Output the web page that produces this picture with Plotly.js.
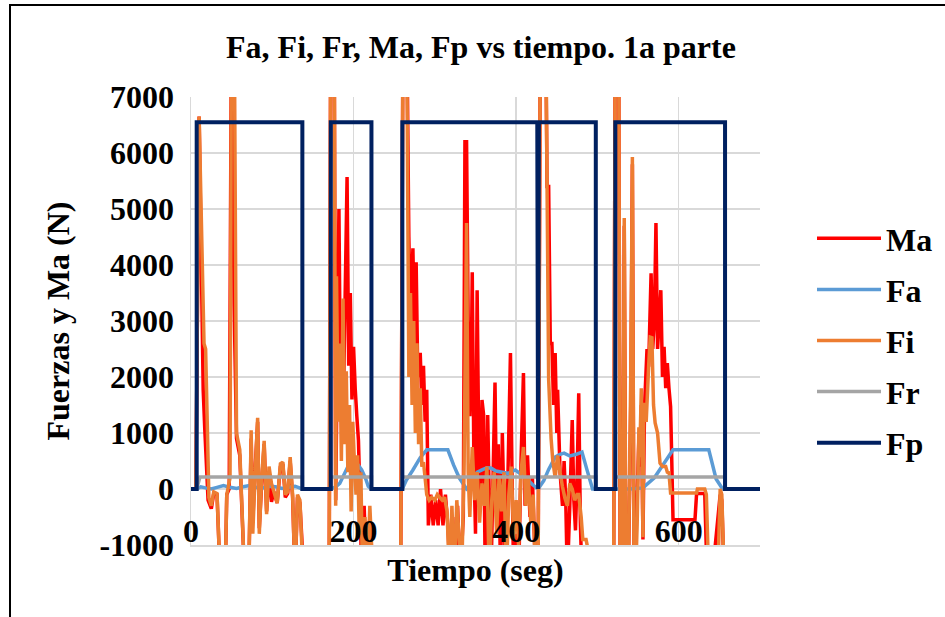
<!DOCTYPE html>
<html><head><meta charset="utf-8">
<script src="https://cdn.plot.ly/plotly-3.0.1.min.js"></script>
<style>
html,body{margin:0;padding:0;overflow:hidden;background:#fff;width:945px;height:617px}
#chart{position:absolute;left:0;top:0;width:945px;height:617px}
#frame{position:absolute;left:9px;top:4px;width:960px;height:640px;border:2px solid #000;pointer-events:none}
</style></head><body>
<div id="chart"></div><div id="frame"></div>
<script>
// ---- data ----
var tFp = [0, 7, 7, 137, 137, 172, 172, 222, 222, 260, 260, 426, 427, 428, 498, 498, 522, 522, 657, 657, 700];
var fp  = [0, 0, 6550, 6550, 0, 0, 6550, 6550, 0, 0, 6550, 6550, 0, 6550, 6550, 0, 0, 6550, 6550, 0, 0];

var tFr = [0, 7, 11, 137, 137, 172, 172, 222, 222, 260, 260, 498, 498, 522, 522, 657, 657, 700];
var fr  = [0, 0, 215, 215, 0, 0, 215, 215, 0, 0, 215, 215, 0, 0, 215, 215, 0, 0];

var tFa = [0, 7, 12, 18, 25, 32, 40, 48, 56, 64, 72, 80, 88, 96, 104, 112, 120, 128, 137, 172, 178, 183, 188, 193, 199, 204, 210, 215, 218, 222, 260, 265, 273, 282, 290, 316, 323, 330, 339, 346, 352, 358, 364, 369, 375, 383, 390, 399, 406, 413, 420, 427, 434, 440, 448, 454, 459, 466, 474, 481, 487, 494, 540, 556, 570, 582, 593, 637, 646, 654, 700];
var fa  = [0, 0, 40, 20, 0, 30, 60, 30, 10, 40, 60, 30, 20, 50, 40, 10, 30, 50, 0, 0, 40, 100, 250, 400, 430, 460, 340, 180, 50, 0, 0, 160, 340, 560, 700, 700, 430, 200, 0, 80, 300, 340, 380, 375, 320, 300, 280, 340, 260, 180, 80, 0, 150, 350, 570, 620, 640, 590, 620, 660, 350, 0, 0, 20, 200, 460, 700, 700, 180, 0, 0];

var tFi = [0, 6, 10, 16, 18, 22, 25, 28, 32, 36, 42, 44, 48, 50, 53, 56, 60, 66, 71, 74, 76, 79, 82, 84, 87, 90, 93, 96, 99, 102, 106, 110, 113, 116, 119, 122, 125, 128, 131, 134, 138, 142, 168,
  170, 172, 176, 178, 179, 181, 183, 185, 187, 189, 191, 193, 195, 197, 199, 201, 203, 205, 207, 209, 211, 214, 217, 220, 224, 226, 256,
  258, 261, 265, 268, 270, 272, 274, 276, 278, 280, 282, 284, 286, 288, 290, 293, 296, 300, 303, 306, 309, 312, 315, 318, 321, 324, 327, 330, 333, 336, 339, 341, 343, 346, 349, 352, 355, 358, 361, 364, 367, 370, 373, 376, 379, 382, 385, 388, 391, 394, 397, 400, 403, 406, 409, 412, 415, 418, 421, 424, 427,
  430, 436, 440, 443, 445, 448, 451, 454, 457, 460, 463, 466, 469, 472, 475, 477, 480, 482, 486, 490, 494, 497, 500, 518,
  520, 522, 526, 528, 531, 533, 535, 538, 541, 543, 545, 547, 549, 551, 552, 554, 556, 557, 560, 563, 565, 567, 569, 571, 574, 577, 580, 584, 586, 588, 590, 600, 610, 622, 623, 632, 634, 637, 640, 648, 651, 653, 656, 660];
var fi  = [0, 0, 6650, 2600, 2500, -150, -300, -50, -80, -1600, -1600, -100, 200, 9000, 9000, 1000, 700, -1600, -1600, 1050, -800, 300, 1270, -800, 200, 860, -450, 400, 100, -50, -250, 450, 480, -100, -50, 570, -100, -1600, -100, -200, -1600, -2500, -2500,
  -1500, 9000, 9000, -300, 3800, 1200, 2600, 500, 3400, 800, 2100, 300, 1500, -400, 1200, 500, -100, 600, -800, 300, -1600, -500, -1600, -300, -1600, -2500, -2500,
  -1500, 9000, 9000, 2000, 3500, 1500, 3000, 1000, 2600, 800, 1800, 400, 480, 200, -100, -200, -150, -200, -100, -150, -200, -150, -400, -1600, -300, -1600, -200, -900, -1600, 500, 4750, 300, -500, 750, -200, 300, -600, 100, -300, 400, -1600, -200, 300, -800, 200, -400, 300, -1600, -100, 400, -900, -200, -1000, 300, 750, -300, 200, -600, -100, -1600, -1600,
  9000, 9000, 1950, 900, 520, 200, 600, 300, 40, -160, -300, 100, 0, -200, -100, -100, -500, -900, -900, -1200, -1600, -1600, -2500, -2500,
  -1500, 9000, 9000, -1600, -1600, 4840, -1600, -1600, 2000, 5930, -1600, -1600, -550, 1100, 570, 1800, -860, 1540, 1200, 2200, 2710, 2700, 1500, 1180, 1000, 460, 400, 400, 300, 290, -70, -70, -70, -70, 0, 0, -100, -1600, -1600, -1600, 0, -100, -1600, -2500];

var tMa = [0, 6, 10, 15, 17, 21, 25, 28, 32, 36, 42, 44, 47, 50, 53, 56, 60, 66, 71, 74, 76, 78, 82, 84, 87, 90, 93, 96, 99, 102, 106, 110, 113, 116, 119, 122, 125, 128, 131, 134, 139, 142, 168,
  170, 172, 176, 178, 182, 184, 186, 188, 192, 194, 196, 198, 200, 202, 204, 206, 208, 210, 213, 216, 220, 224, 226, 256,
  258, 261, 265, 268, 270, 273, 275, 277, 279, 282, 284, 286, 288, 290, 292, 295, 298, 301, 304, 307, 310, 313, 316, 319, 322, 325, 328, 331, 335, 337, 339, 341, 343, 345, 346, 348, 350, 352, 354, 356, 358, 360, 362, 365, 367, 369, 372, 374, 376, 378, 381, 383, 385, 387, 390, 393, 395, 397, 400, 403, 406, 409, 411, 414, 417, 420, 424, 427,
  430, 436, 438, 440, 442, 444, 446, 448, 450, 451, 454, 457, 459, 461, 463, 466, 469, 471, 473, 475, 477, 479, 481, 485, 490, 497, 500, 518,
  520, 522, 526, 528, 531, 533, 535, 538, 541, 543, 545, 547, 548, 551, 552, 554, 556, 558, 561, 563, 566, 568, 570, 572, 574, 576, 578, 580, 582, 584, 586, 588, 590, 591, 593, 620, 622, 632, 635, 641, 651, 653, 656, 660];
var ma  = [0, 0, 6650, 1770, 1050, -200, -350, -80, -100, -1600, -1600, -100, 0, 9000, 3300, 900, 600, -1600, -1600, 900, -600, 100, 1200, -700, 100, 800, -400, 300, -230, -50, -250, 400, 450, -150, -80, 500, -150, -1600, -150, -250, -1600, -2500, -2500,
  -1500, 9000, 9000, -200, 5000, 1500, 3000, 2000, 5570, 2200, 3500, 1600, 2540, 1800, 1300, 870, -200, -1600, -300, -1600, -500, -1600, -2500, -2500,
  -1500, 9000, 9000, 4500, 3000, 4300, 2500, 4050, 2000, 2430, 1500, 2200, 1200, 1770, -650, -100, -650, -200, -650, 0, -650, -100, -650, -1600, -500, -1600, -300, -1600, -500, 6200, 6200, 3000, 1300, 2500, 3870, 500, -800, 3550, 800, -300, 1590, 1320, -1600, 1320, -200, -1600, 500, 1900, -400, 800, -1600, 1000, -300, -1600, 300, 2430, 200, -1600, -800, -1600, 500, 2070, -300, 600, -500, 200, -1600, -1600,
  9000, 9000, 5400, 5400, 2600, 2600, 1500, 2430, 1000, 1770, 300, -300, 500, -200, -1600, -300, 1230, -200, -740, 200, 1710, -600, -1600, -1600, -1600, -1600, -2500, -2500,
  -1500, 9000, 9000, -1600, -1600, 4700, -1600, -1600, 1500, 5800, -1600, -1600, -550, 900, 400, 1500, -900, 1500, 2500, 2180, 3850, 2500, 3000, 4750, 2500, 3000, 3550, 2000, 2540, 1800, 2250, 1800, 1470, 820, -550, -550, -80, -80, -1600, -1600, -100, -200, -1600, -2500];

var names = ['Ma', 'Fa', 'Fi', 'Fr', 'Fp'];
var colors = ['#FF0000', '#5B9BD5', '#ED7D31', '#A5A5A5', '#002060'];
var widths = [3.5, 3.5, 3.5, 3.5, 4];
var xTickVals = [0, 200, 400, 600];
var yTickVals = [-1000, 0, 1000, 2000, 3000, 4000, 5000, 6000, 7000];

var FONT = '"Liberation Serif", "Times New Roman", Times, serif';
var xs = [tMa, tFa, tFi, tFr, tFp];
var ys = [ma, fa, fi, fr, fp];
var traces = names.map(function (n, i) {
  return {
    x: xs[i], y: ys[i], name: n, type: 'scatter', mode: 'lines',
    legendgroup: n,
    line: {color: colors[i], width: widths[i], simplify: false},
    hoverinfo: 'skip'
  };
});
function f(size) { return {family: FONT, size: size, color: '#000', weight: 'bold'}; }

var layout = {
  width: 945, height: 617,
  margin: {l: 191, r: 185, t: 97, b: 72, pad: 0},
  paper_bgcolor: '#fff', plot_bgcolor: '#fff',
  font: f(32),
  showlegend: true,
  title: {
    text: 'Fa, Fi, Fr, Ma, Fp vs tiempo. 1a parte',
    font: f(32),
    xref: 'container', yref: 'container', x: 481 / 945, y: 1 - 47 / 617,
    xanchor: 'center', yanchor: 'middle'
  },
  xaxis: {
    range: [0, 700], tickvals: xTickVals, ticktext: xTickVals.map(String),
    showgrid: true, gridcolor: '#D9D9D9', gridwidth: 1.5,
    zeroline: false, showline: true, linecolor: '#D9D9D9', linewidth: 1.5,
    ticks: '', ticklabelposition: 'inside', ticklabeloverflow: 'allow',
    tickfont: f(32),
    title: {text: 'Tiempo (seg)', font: f(32), standoff: 10}
  },
  yaxis: {
    range: [-1000, 7000], tickvals: yTickVals, ticktext: yTickVals.map(String),
    showgrid: true, gridcolor: '#D9D9D9', gridwidth: 1.5,
    zeroline: false, showline: true, linecolor: '#D9D9D9', linewidth: 1.5,
    ticks: '', ticklabelstandoff: 9,
    tickfont: f(32),
    title: {text: 'Fuerzas y Ma (N)', font: f(32), standoff: 20}
  },
  legend: {
    xref: 'container', yref: 'container', x: 812 / 945, y: 1 - 211 / 617,
    xanchor: 'left', yanchor: 'top',
    font: f(32),
    itemwidth: 64, tracegroupgap: 6.5, traceorder: 'grouped',
    bgcolor: 'rgba(0,0,0,0)'
  }
};

Plotly.newPlot('chart', traces, layout, {staticPlot: true, displayModeBar: false});
</script></body></html>
